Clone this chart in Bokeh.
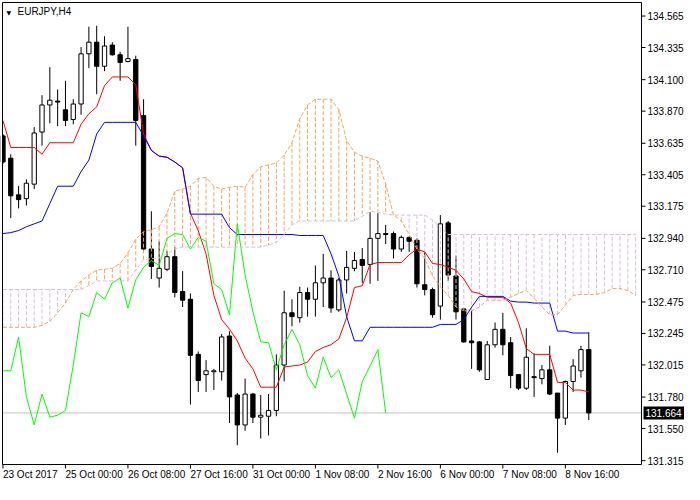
import numpy as np
from bokeh.plotting import figure
from bokeh.models import Range1d
from bokeh.core.properties import value
from bokeh.embed import file_html
from bokeh.resources import INLINE

symbol = "EURJPY,H4"

open_ = [133.689, 133.526, 133.258, 133.230, 133.336, 133.717, 133.915, 133.943, 133.880, 133.809,
         133.922, 134.289, 134.374, 134.198, 134.353, 134.282, 134.233, 134.247, 133.837, 132.862,
         132.650, 132.714, 132.806, 132.551, 132.495, 132.092, 131.944, 131.965, 131.965, 132.226,
         131.795, 131.576, 131.802, 131.633, 131.640, 131.682, 132.014, 132.396, 132.360, 132.544,
         132.495, 132.615, 132.650, 132.417, 132.636, 132.721, 132.785, 132.749, 132.940, 132.975,
         132.975, 132.862, 132.947, 132.926, 132.601, 132.566, 132.445, 133.053, 132.665, 132.424,
         132.190, 132.183, 131.908, 132.162, 132.275, 132.177, 131.944, 131.845, 131.929, 131.915,
         131.979, 131.809, 131.626, 131.894, 131.972, 132.127]
high = [133.703, 133.555, 133.322, 133.371, 133.753, 133.986, 134.191, 134.028, 134.092, 133.957,
        134.339, 134.487, 134.494, 134.417, 134.374, 134.304, 134.487, 134.275, 133.957, 133.138,
        132.919, 132.848, 132.876, 132.700, 132.537, 132.113, 132.050, 131.986, 132.240, 132.261,
        131.809, 131.915, 131.809, 131.795, 131.802, 132.092, 132.558, 132.495, 132.587, 132.580,
        132.742, 132.827, 132.707, 132.650, 132.848, 132.841, 132.869, 133.131, 133.124, 133.039,
        132.990, 132.961, 132.954, 132.940, 132.841, 132.580, 133.110, 133.067, 132.813, 132.431,
        132.417, 132.190, 132.190, 132.325, 132.396, 132.219, 131.944, 132.283, 132.099, 132.014,
        132.155, 131.809, 131.901, 132.057, 132.155, 132.254]
low = [133.484, 133.088, 133.159, 133.180, 133.300, 133.618, 133.781, 133.760, 133.760, 133.774,
       133.844, 134.184, 133.993, 134.162, 134.275, 134.092, 134.226, 133.618, 132.841, 132.643,
       132.580, 132.700, 132.509, 132.438, 131.725, 131.817, 131.817, 131.831, 131.901, 131.590,
       131.428, 131.534, 131.590, 131.477, 131.499, 131.640, 131.894, 132.297, 132.325, 132.368,
       132.368, 132.438, 132.396, 132.403, 132.537, 132.700, 132.615, 132.608, 132.629, 132.898,
       132.792, 132.841, 132.841, 132.580, 132.523, 132.360, 132.346, 132.629, 132.346, 132.177,
       131.986, 131.965, 131.908, 132.141, 132.085, 131.845, 131.831, 131.831, 131.781, 131.873,
       131.795, 131.372, 131.576, 131.817, 131.922, 131.612]
close = [133.498, 133.251, 133.223, 133.343, 133.710, 133.915, 133.950, 133.936, 133.802, 133.922,
         134.289, 134.374, 134.198, 134.346, 134.282, 134.226, 134.254, 133.802, 132.862, 132.735,
         132.721, 132.806, 132.544, 132.488, 132.085, 131.901, 131.972, 131.972, 132.219, 131.781,
         131.576, 131.802, 131.633, 131.647, 131.682, 132.014, 132.396, 132.368, 132.544, 132.495,
         132.615, 132.650, 132.431, 132.636, 132.728, 132.778, 132.742, 132.940, 132.975, 132.968,
         132.862, 132.947, 132.919, 132.608, 132.566, 132.382, 133.046, 132.672, 132.403, 132.183,
         132.177, 131.979, 132.162, 132.275, 132.162, 131.937, 131.845, 132.071, 131.922, 131.979,
         131.802, 131.626, 131.894, 132.007, 132.127, 131.664]

tenkan = [133.802, 133.604, 133.604, 133.604, 133.604, 133.555, 133.639, 133.639, 133.639, 133.639,
          133.774, 133.851, 133.901, 134.056, 134.120, 134.120, 134.120, 134.063, 133.703, 133.583,
          133.541, 133.533, 133.498, 133.456, 133.124, 132.996, 132.827, 132.523, 132.346, 132.276,
          132.191, 132.064, 131.986, 131.852, 131.852, 131.852, 132.000, 132.007, 132.014, 132.036,
          132.113, 132.142, 132.163, 132.205, 132.361, 132.580, 132.594, 132.749, 132.763, 132.763,
          132.763, 132.763, 132.820, 132.862, 132.841, 132.756, 132.749, 132.728, 132.707, 132.643,
          132.551, 132.537, 132.509, 132.509, 132.509, 132.467, 132.325, 132.135, 132.092, 132.092,
          132.092, 131.887, 131.887, 131.831, 131.831, 131.817]
kijun = [132.975, 132.982, 132.997, 133.025, 133.046, 133.067, 133.194, 133.321, 133.321, 133.321,
         133.428, 133.512, 133.703, 133.788, 133.788, 133.788, 133.788, 133.788, 133.689, 133.583,
         133.541, 133.533, 133.498, 133.456, 133.117, 133.117, 133.117, 133.117, 133.117, 133.018,
         132.968, 132.968, 132.968, 132.968, 132.968, 132.968, 132.968, 132.968, 132.961, 132.961,
         132.961, 132.961, 132.827, 132.664, 132.368, 132.191, 132.191, 132.290, 132.290, 132.290,
         132.290, 132.290, 132.290, 132.290, 132.290, 132.290, 132.311, 132.311, 132.311, 132.346,
         132.438, 132.516, 132.516, 132.516, 132.516, 132.481, 132.474, 132.474, 132.467, 132.467,
         132.467, 132.262, 132.262, 132.248, 132.248, 132.248]
senkou_a = [132.290, 132.290, 132.290, 132.290, 132.290, 132.304, 132.333, 132.396, 132.467, 132.566,
            132.629, 132.672, 132.707, 132.714, 132.721, 132.756, 132.834, 132.933, 132.989, 133.004,
            133.025, 133.124, 133.286, 133.300, 133.321, 133.378, 133.385, 133.321, 133.300, 133.314,
            133.321, 133.314, 133.406, 133.463, 133.477, 133.491, 133.548, 133.639, 133.816, 133.915,
            133.957, 133.957, 133.957, 133.880, 133.654, 133.569, 133.541, 133.526, 133.505, 133.336,
            133.110, 133.067, 132.968, 132.862, 132.791, 132.664, 132.587, 132.523, 132.438, 132.410,
            132.410, 132.438, 132.488, 132.488, 132.488, 132.509, 132.537, 132.559, 132.502, 132.438,
            132.382, 132.382, 132.452, 132.523, 132.530, 132.530, 132.530, 132.544, 132.573, 132.573,
            132.559, 132.523]
senkou_b = [132.566, 132.566, 132.566, 132.566, 132.566, 132.566, 132.566, 132.566, 132.566, 132.566,
            132.566, 132.594, 132.629, 132.629, 132.629, 132.629, 132.629, 132.707, 132.784, 132.791,
            132.798, 132.827, 132.862, 132.876, 132.876, 132.876, 132.876, 132.876, 132.876, 132.876,
            132.876, 132.876, 132.876, 132.876, 132.890, 132.911, 132.968, 133.039, 133.067, 133.067,
            133.067, 133.067, 133.067, 133.067, 133.067, 133.067, 133.102, 133.138, 133.131, 133.117,
            133.110, 133.110, 133.110, 133.110, 133.110, 133.074, 133.018, 132.968, 132.968, 132.968,
            132.968, 132.968, 132.968, 132.968, 132.968, 132.968, 132.968, 132.968, 132.968, 132.968,
            132.968, 132.968, 132.968, 132.968, 132.968, 132.968, 132.968, 132.968, 132.968, 132.968,
            132.968, 132.968]
chikou_shift = 26

time_labels = ["23 Oct 2017", "25 Oct 00:00", "26 Oct 08:00", "27 Oct 16:00", "31 Oct 00:00",
               "1 Nov 08:00", "2 Nov 16:00", "6 Nov 00:00", "7 Nov 08:00", "8 Nov 16:00"]
time_label_bars = [0, 8, 16, 24, 32, 40, 48, 56, 64, 72]
price_ticks = [134.565, 134.335, 134.100, 133.870, 133.635, 133.405, 133.175, 132.940,
               132.710, 132.475, 132.245, 132.015, 131.780, 131.550, 131.315]
price_tick_labels = ["134.565", "134.335", "134.100", "133.870", "133.635", "133.405", "133.175",
                     "132.940", "132.710", "132.475", "132.245", "132.015", "131.780", "131.550", "131.315"]

# chart window (data) and its placement on the canvas
X_START, X_END = -0.06, 81.75
Y_START, Y_END = 131.287, 134.664
W, H = 684, 484
ML, MT, MR, MB = 2, 2, 43, 20
ppx = (W - ML - MR) / (X_END - X_START)
ppy = (H - MT - MB) / (Y_END - Y_START)

FONT = value("Liberation Sans")
FS = "10px"

p = figure(width=W, height=H,
           x_range=Range1d(X_START - ML / ppx, X_END + MR / ppx),
           y_range=Range1d(Y_START - MB / ppy, Y_END + MT / ppy),
           output_backend="svg", toolbar_location=None,
           x_axis_location=None, y_axis_location=None, min_border=0)
p.grid.visible = False
p.outline_line_color = None
p.background_fill_color = "white"
p.border_fill_color = "white"

# current price line
last = close[-1]
p.segment(x0=[X_START], y0=[last], x1=[X_END], y1=[last], line_color="#C0C0C0", line_width=1)

# candles
x = np.arange(len(close))
o = np.array(open_)
c = np.array(close)
up = c >= o
p.segment(x, high, x, low, line_color="black", line_width=1)
p.vbar(x=x[up], width=0.55, top=c[up], bottom=o[up], fill_color="white", line_color="black", line_width=1)
p.vbar(x=x[~up], width=0.55, top=o[~up], bottom=c[~up], fill_color="black", line_color="black", line_width=1)

# cloud histogram
xa = np.arange(len(senkou_a))
a = np.array(senkou_a)
b = np.array(senkou_b)
aup = a >= b
p.segment(xa[aup], a[aup], xa[aup], b[aup], line_color="#F4A460", line_width=1, line_dash="4 2")
p.segment(xa[~aup], a[~aup], xa[~aup], b[~aup], line_color="#D8BFD8", line_width=1, line_dash="4 2")

# indicator lines
p.line(x, tenkan, line_color="#FF0000", line_width=1)
p.line(x, kijun, line_color="#0000FF", line_width=1)
chikou = c[chikou_shift:]
p.line(np.arange(len(chikou)), chikou, line_color="#00FF00", line_width=1)
p.line(xa, senkou_a, line_color="#F4A460", line_width=1, line_dash="4 2")
p.line(xa, senkou_b, line_color="#D8BFD8", line_width=1, line_dash="4 2")

# cover anything outside the chart window on the left margin, then the chart border
p.quad(left=[X_START - ML / ppx], right=[X_START], bottom=[Y_START], top=[Y_END],
       fill_color="white", line_color=None)
p.quad(left=[X_START], right=[X_END], bottom=[Y_START], top=[Y_END],
       fill_color=None, line_color="black", line_width=1)

# time axis: ticks and left-aligned labels
nt = len(time_label_bars)
p.segment(x0=time_label_bars, y0=[Y_START] * nt, x1=time_label_bars, y1=[Y_START - 4 / ppy] * nt,
          line_color="black", line_width=1)
p.text(x=time_label_bars, y=[Y_START - 4 / ppy] * nt, text=time_labels,
       text_font=FONT, text_font_size=FS, text_align="left", text_baseline="top", text_color="black")

# price axis: ticks and labels
npt = len(price_ticks)
p.segment(x0=[X_END] * npt, y0=price_ticks, x1=[X_END + 4 / ppx] * npt, y1=price_ticks,
          line_color="black", line_width=1)
p.text(x=[X_END + 6 / ppx] * npt, y=price_ticks, text=price_tick_labels,
       text_font=FONT, text_font_size=FS, text_align="left", text_baseline="middle", text_color="black")

# current price tag
p.rect(x=[X_END + 22.5 / ppx], y=[last], width=41, height=13, width_units="screen", height_units="screen",
       fill_color="black", line_color=None)
p.text(x=[X_END + 4 / ppx], y=[last], text=[f"{last:.3f}"], text_font=FONT, text_font_size=FS,
       text_align="left", text_baseline="middle", text_color="white")

# title
p.text(x=[X_START + 4 / ppx], y=[Y_END - 6 / ppy], text=["\u25BC"], text_font=value("DejaVu Sans"),
       text_font_size="6px", text_align="left", text_baseline="top", text_color="black")
p.text(x=[X_START + 15 / ppx], y=[Y_END - 3 / ppy], text=[symbol], text_font=FONT,
       text_font_size=FS, text_align="left", text_baseline="top", text_color="black")

open("out.html", "w").write(file_html(p, INLINE))
